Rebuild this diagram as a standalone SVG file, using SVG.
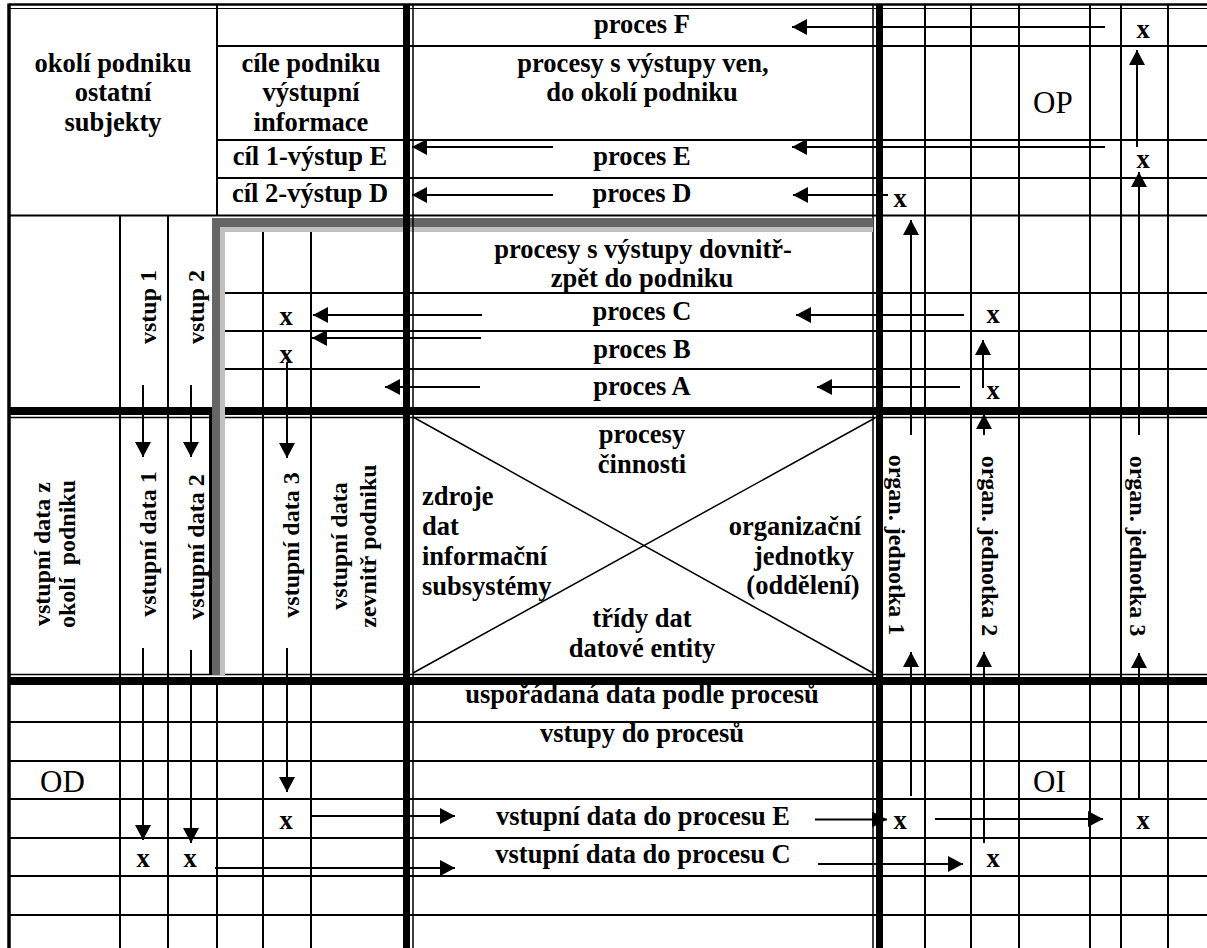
<svg xmlns="http://www.w3.org/2000/svg" width="1207" height="948" viewBox="0 0 1207 948">
<style>
.t{font-family:"Liberation Serif","Times New Roman",serif;font-weight:bold;font-size:26.5px;text-anchor:middle;fill:#000}
.s{text-anchor:start}
.r{font-family:"Liberation Serif","Times New Roman",serif;font-weight:normal;font-size:31px;fill:#000}
.v{font-family:"Liberation Serif","Times New Roman",serif;font-weight:bold;font-size:24px;text-anchor:middle;fill:#000}
.g line{stroke:#000;stroke-width:2}
.th{stroke:#000;stroke-width:1.5}
.a{stroke:#000;stroke-width:2;fill:none;marker-end:url(#ah)}
.p{stroke:#000;stroke-width:2;fill:none}
</style>
<defs>
<marker id="ah" markerUnits="userSpaceOnUse" markerWidth="16" markerHeight="16" viewBox="0 0 16 16" refX="15" refY="8" orient="auto"><path d="M0,0 L15,8 L0,16 Z" fill="#000"/></marker>
</defs>
<rect width="1207" height="948" fill="#fff"/>
<g id="grid" class="g">
<line x1="9" y1="4.5" x2="1207" y2="4.5" style="stroke-width:2.5"/>
<line x1="9" y1="8.5" x2="1207" y2="8.5" style="stroke-width:1.2"/>
<line x1="217" y1="46" x2="1207" y2="46"/>
<line x1="217" y1="140" x2="1207" y2="140"/>
<line x1="217" y1="178" x2="1207" y2="178"/>
<line x1="9" y1="215.5" x2="1207" y2="215.5"/>
<line x1="225" y1="293" x2="1207" y2="293"/>
<line x1="225" y1="331" x2="1207" y2="331"/>
<line x1="225" y1="369" x2="1207" y2="369"/>
<line x1="9" y1="411" x2="1207" y2="411" style="stroke-width:8"/>
<line x1="9" y1="417.5" x2="1207" y2="417.5" style="stroke-width:1.5"/>
<line x1="9" y1="674.5" x2="1207" y2="674.5" style="stroke-width:1.5"/>
<line x1="9" y1="681" x2="1207" y2="681" style="stroke-width:8"/>
<line x1="9" y1="722" x2="1207" y2="722"/>
<line x1="9" y1="761" x2="1207" y2="761"/>
<line x1="9" y1="799" x2="1207" y2="799"/>
<line x1="9" y1="838" x2="1207" y2="838"/>
<line x1="9" y1="876" x2="1207" y2="876"/>
<line x1="9" y1="915" x2="1207" y2="915"/>
<line x1="9" y1="3.5" x2="9" y2="948" style="stroke-width:3.5"/>
<line x1="217" y1="5" x2="217" y2="215"/>
<line x1="217" y1="685" x2="217" y2="948"/>
<line x1="120" y1="215" x2="120" y2="948"/>
<line x1="168" y1="215" x2="168" y2="948"/>
<line x1="210.5" y1="407" x2="210.5" y2="675" style="stroke-width:3"/>
<line x1="263" y1="232" x2="263" y2="948"/>
<line x1="311" y1="232" x2="311" y2="948"/>
<line x1="925" y1="5" x2="925" y2="948"/>
<line x1="971" y1="5" x2="971" y2="948"/>
<line x1="1019" y1="5" x2="1019" y2="948"/>
<line x1="1090" y1="5" x2="1090" y2="948"/>
<line x1="1121" y1="5" x2="1121" y2="948"/>
<line x1="1168" y1="5" x2="1168" y2="948"/>
<line x1="873" y1="5" x2="873" y2="948" style="stroke-width:1.5"/>
<line x1="879.5" y1="5" x2="879.5" y2="948" style="stroke-width:7"/>
</g>
<g id="gray-frame">
<rect x="212" y="218" width="661" height="9" fill="#666"/>
<rect x="220" y="227" width="653" height="5" fill="#c0c0c0"/>
<rect x="212" y="218" width="8" height="457" fill="#666"/>
<rect x="220" y="227" width="5" height="448" fill="#c0c0c0"/>
</g>
<g id="divider" class="g">
<line x1="406.5" y1="5" x2="406.5" y2="948" style="stroke-width:7"/>
<line x1="413" y1="5" x2="413" y2="948" style="stroke-width:1.5"/>
</g>
<g id="cross">
<line class="th" x1="413" y1="417" x2="873" y2="673"/>
<line class="th" x1="413" y1="673" x2="875" y2="418"/>
</g>
<g id="node-okoli"><text class="t" x="113" y="72">okolí podniku</text><text class="t" x="113" y="101">ostatní</text><text class="t" x="113" y="131">subjekty</text></g>
<g id="node-cile"><text class="t" x="311" y="72">cíle podniku</text><text class="t" x="311" y="101">výstupní</text><text class="t" x="311" y="131">informace</text></g>
<g id="node-cil1"><text class="t" x="310" y="165">cíl 1-výstup E</text></g>
<g id="node-cil2"><text class="t" x="310" y="202">cíl 2-výstup D</text></g>
<g id="node-procesF"><text class="t" x="642" y="33">proces F</text></g>
<g id="node-ven"><text class="t" x="643" y="72">procesy s výstupy ven,</text><text class="t" x="642" y="101">do okolí podniku</text></g>
<g id="node-procesE"><text class="t" x="642" y="165">proces E</text></g>
<g id="node-procesD"><text class="t" x="642" y="202">proces D</text></g>
<g id="node-dovnitr"><text class="t" x="643" y="258">procesy s výstupy dovnitř-</text><text class="t" x="642" y="287">zpět do podniku</text></g>
<g id="node-procesC"><text class="t" x="642" y="320">proces C</text></g>
<g id="node-procesB"><text class="t" x="642" y="358">proces B</text></g>
<g id="node-procesA"><text class="t" x="642" y="395">proces A</text></g>
<g id="node-OP"><text class="r" x="1033" y="113">OP</text></g>
<g id="node-OD"><text class="r" x="40" y="792">OD</text></g>
<g id="node-OI"><text class="r" x="1033" y="792">OI</text></g>
<g id="node-vstup1"><text class="v" transform="translate(156 307) rotate(-90)">vstup 1</text></g>
<g id="node-vstup2"><text class="v" transform="translate(204 307) rotate(-90)">vstup 2</text></g>
<g id="node-vstupni-okoli"><text class="v" transform="translate(50 554) rotate(-90)">vstupní data z</text><text class="v" xml:space="preserve" transform="translate(75 554) rotate(-90)">okolí  podniku</text></g>
<g id="node-vd1"><text class="v" transform="translate(156 544) rotate(-90)">vstupní data 1</text></g>
<g id="node-vd2"><text class="v" transform="translate(204 547) rotate(-90)">vstupní data 2</text></g>
<g id="node-vd3"><text class="v" transform="translate(299 545) rotate(-90)">vstupní data 3</text></g>
<g id="node-vd-zevnitr"><text class="v" transform="translate(347 546) rotate(-90)">vstupní data</text><text class="v" transform="translate(376 546) rotate(-90)">zevnitř podniku</text></g>
<g id="node-org1"><text class="v" transform="translate(889 545) rotate(90)">organ. jednotka 1</text></g>
<g id="node-org2"><text class="v" transform="translate(982 546) rotate(90)">organ. jednotka 2</text></g>
<g id="node-org3"><text class="v" transform="translate(1130 546) rotate(90)">organ. jednotka 3</text></g>
<g id="node-center">
<text class="t" x="642" y="443">procesy</text><text class="t" x="642" y="473">činnosti</text>
<text class="t s" x="422" y="505">zdroje</text><text class="t s" x="422" y="535">dat</text><text class="t s" x="422" y="565">informační</text><text class="t s" x="422" y="595">subsystémy</text>
<text class="t" x="795" y="535">organizační</text><text class="t" x="804" y="565">jednotky</text><text class="t" x="803" y="594">(oddělení)</text>
<text class="t" x="642" y="627">třídy dat</text><text class="t" x="642" y="657">datové entity</text>
</g>
<g id="node-usporadana"><text class="t" x="642" y="703">uspořádaná data podle procesů</text></g>
<g id="node-vstupy"><text class="t" x="642" y="742">vstupy do procesů</text></g>
<g id="node-vdE"><text class="t" x="643" y="825">vstupní data do procesu E</text></g>
<g id="node-vdC"><text class="t" x="643" y="863">vstupní data do procesu C</text></g>
<g id="marks">
<text class="t" x="1143" y="38">x</text>
<text class="t" x="1143" y="168">x</text>
<text class="t" x="900" y="207">x</text>
<text class="t" x="286" y="325">x</text>
<text class="t" x="286" y="363">x</text>
<text class="t" x="993" y="323">x</text>
<text class="t" x="993" y="399">x</text>
<text class="t" x="286" y="829">x</text>
<text class="t" x="143" y="867">x</text>
<text class="t" x="190" y="867">x</text>
<text class="t" x="900" y="829">x</text>
<text class="t" x="1143" y="829">x</text>
<text class="t" x="993" y="867">x</text>
</g>
<g id="connectors">
<line class="a" x1="1105" y1="27" x2="792" y2="27"/>
<line class="a" x1="1105" y1="147" x2="792" y2="147"/>
<line class="a" x1="553" y1="147" x2="412" y2="147"/>
<line class="a" x1="553" y1="195" x2="412" y2="195"/>
<line class="a" x1="888" y1="195" x2="793" y2="195"/>
<line class="a" x1="482" y1="315" x2="313" y2="315"/>
<line class="a" x1="964" y1="315" x2="796" y2="315"/>
<line class="a" x1="481" y1="338" x2="312" y2="338"/>
<line class="a" x1="480" y1="387" x2="385" y2="387"/>
<line class="a" x1="960" y1="387" x2="817" y2="387"/>
<line class="a" x1="143" y1="385" x2="143" y2="457"/>
<line class="a" x1="191" y1="385" x2="191" y2="457"/>
<line class="a" x1="287" y1="363" x2="287" y2="458"/>
<line class="a" x1="143" y1="648" x2="143" y2="840"/>
<line class="a" x1="191" y1="650" x2="191" y2="843"/>
<line class="a" x1="287" y1="648" x2="287" y2="792"/>
<line class="a" x1="311" y1="816" x2="455" y2="816"/>
<line class="a" x1="215" y1="868" x2="455" y2="868"/>
<line class="a" x1="815" y1="819.5" x2="887" y2="819.5"/>
<line class="a" x1="935" y1="819" x2="1103" y2="819"/>
<line class="a" x1="818" y1="864" x2="963" y2="864"/>
<line class="a" x1="911" y1="796" x2="911" y2="652"/>
<line class="a" x1="911" y1="435" x2="911" y2="220"/>
<line class="a" x1="984" y1="843" x2="984" y2="652"/>
<line class="a" x1="984" y1="435" x2="984" y2="414"/>
<line class="a" x1="983" y1="388" x2="983" y2="340"/>
<line class="a" x1="1139" y1="798" x2="1139" y2="653"/>
<line class="a" x1="1139" y1="435" x2="1139" y2="172"/>
<line class="a" x1="1137" y1="147" x2="1137" y2="50"/>
</g>
</svg>
